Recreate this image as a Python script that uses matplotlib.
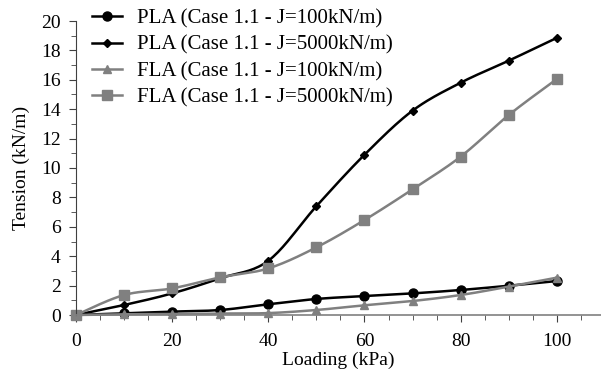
import matplotlib
matplotlib.use("Agg")
import matplotlib.pyplot as plt
import numpy as np
from matplotlib.ticker import MultipleLocator

loading = [0, 10, 20, 30, 40, 50, 60, 70, 80, 90, 100]
pla_100 = [0, 0.11, 0.23, 0.34, 0.73, 1.09, 1.29, 1.47, 1.7, 1.99, 2.31]
pla_5000 = [0, 0.68, 1.47, 2.5, 3.69, 7.4, 10.9, 13.9, 15.8, 17.3, 18.85]
fla_100 = [0, 0.05, 0.06, 0.1, 0.13, 0.34, 0.66, 0.95, 1.36, 1.93, 2.54]
fla_5000 = [0, 1.36, 1.81, 2.56, 3.17, 4.6, 6.46, 8.55, 10.77, 13.6, 16.05]
labels = ["PLA (Case 1.1 - J=100kN/m)", "PLA (Case 1.1 - J=5000kN/m)",
          "FLA (Case 1.1 - J=100kN/m)", "FLA (Case 1.1 - J=5000kN/m)"]

def smooth(x, y, n=20):
    # Excel-style smoothed line: cubic bezier with catmull-rom control points
    x = np.asarray(x, float); y = np.asarray(y, float); px = []; py = []
    for i in range(len(x) - 1):
        x0, y0 = (x[i-1], y[i-1]) if i > 0 else (x[i], y[i])
        x3, y3 = (x[i+2], y[i+2]) if i + 2 < len(x) else (x[i+1], y[i+1])
        c1 = (x[i] + (x[i+1] - x0) / 6, y[i] + (y[i+1] - y0) / 6)
        c2 = (x[i+1] - (x3 - x[i]) / 6, y[i+1] - (y3 - y[i]) / 6)
        t = np.linspace(0, 1, n, endpoint=False)
        b = [(1-t)**3, 3*(1-t)**2*t, 3*(1-t)*t**2, t**3]
        px += list(b[0]*x[i] + b[1]*c1[0] + b[2]*c2[0] + b[3]*x[i+1])
        py += list(b[0]*y[i] + b[1]*c1[1] + b[2]*c2[1] + b[3]*y[i+1])
    return px + [x[-1]], py + [y[-1]]

plt.rcParams["font.family"] = ["Liberation Serif", "DejaVu Serif"]
fig = plt.figure(figsize=(6.01, 3.8), dpi=100)
ax = fig.add_axes([76/601, 1-315/380, 1-76/601, 294/380])
gray = "#808080"
styles = [("black", "o", 6.5), ("black", "D", 4.5), (gray, "^", 6), (gray, "s", 6.5)]
for ys, lab, (c, m, ms) in zip([pla_100, pla_5000, fla_100, fla_5000], labels, styles):
    sx, sy = smooth(loading, ys)
    ax.plot(sx, sy, color=c, lw=1.8, clip_on=False)
    ax.plot(loading, ys, ls="none", marker=m, ms=ms, color=c, clip_on=False)
    ax.plot([], [], color=c, lw=1.8, marker=m, ms=ms, label=lab)
ax.set_xlim(0, 109.2); ax.set_ylim(0, 20)
ax.xaxis.set_major_locator(MultipleLocator(20)); ax.xaxis.set_minor_locator(MultipleLocator(5))
ax.yaxis.set_major_locator(MultipleLocator(2)); ax.yaxis.set_minor_locator(MultipleLocator(1))
for s in ["top", "right"]: ax.spines[s].set_visible(False)
ax.spines["bottom"].set_color(gray); ax.spines["left"].set_color("#404040")
ax.spines["bottom"].set_linewidth(1.2)
ax.tick_params(which="major", length=5, labelsize=14)
ax.tick_params(which="minor", length=3.5)
ax.tick_params(axis="x", which="both", color="#404040", pad=8)
ax.tick_params(axis="y", which="both", color="#404040", pad=6)
ax.set_xlabel("Loading (kPa)", fontsize=14, labelpad=1)
ax.set_ylabel("Tension (kN/m)", fontsize=14, labelpad=8)
ax.legend(loc="upper left", bbox_to_anchor=(92/601, 1-9/380), bbox_transform=fig.transFigure,
          frameon=False, fontsize=15, borderpad=0, borderaxespad=0,
          handlelength=1.45, labelspacing=0.32, handletextpad=0.7)
fig.savefig("out.png", dpi=100)
